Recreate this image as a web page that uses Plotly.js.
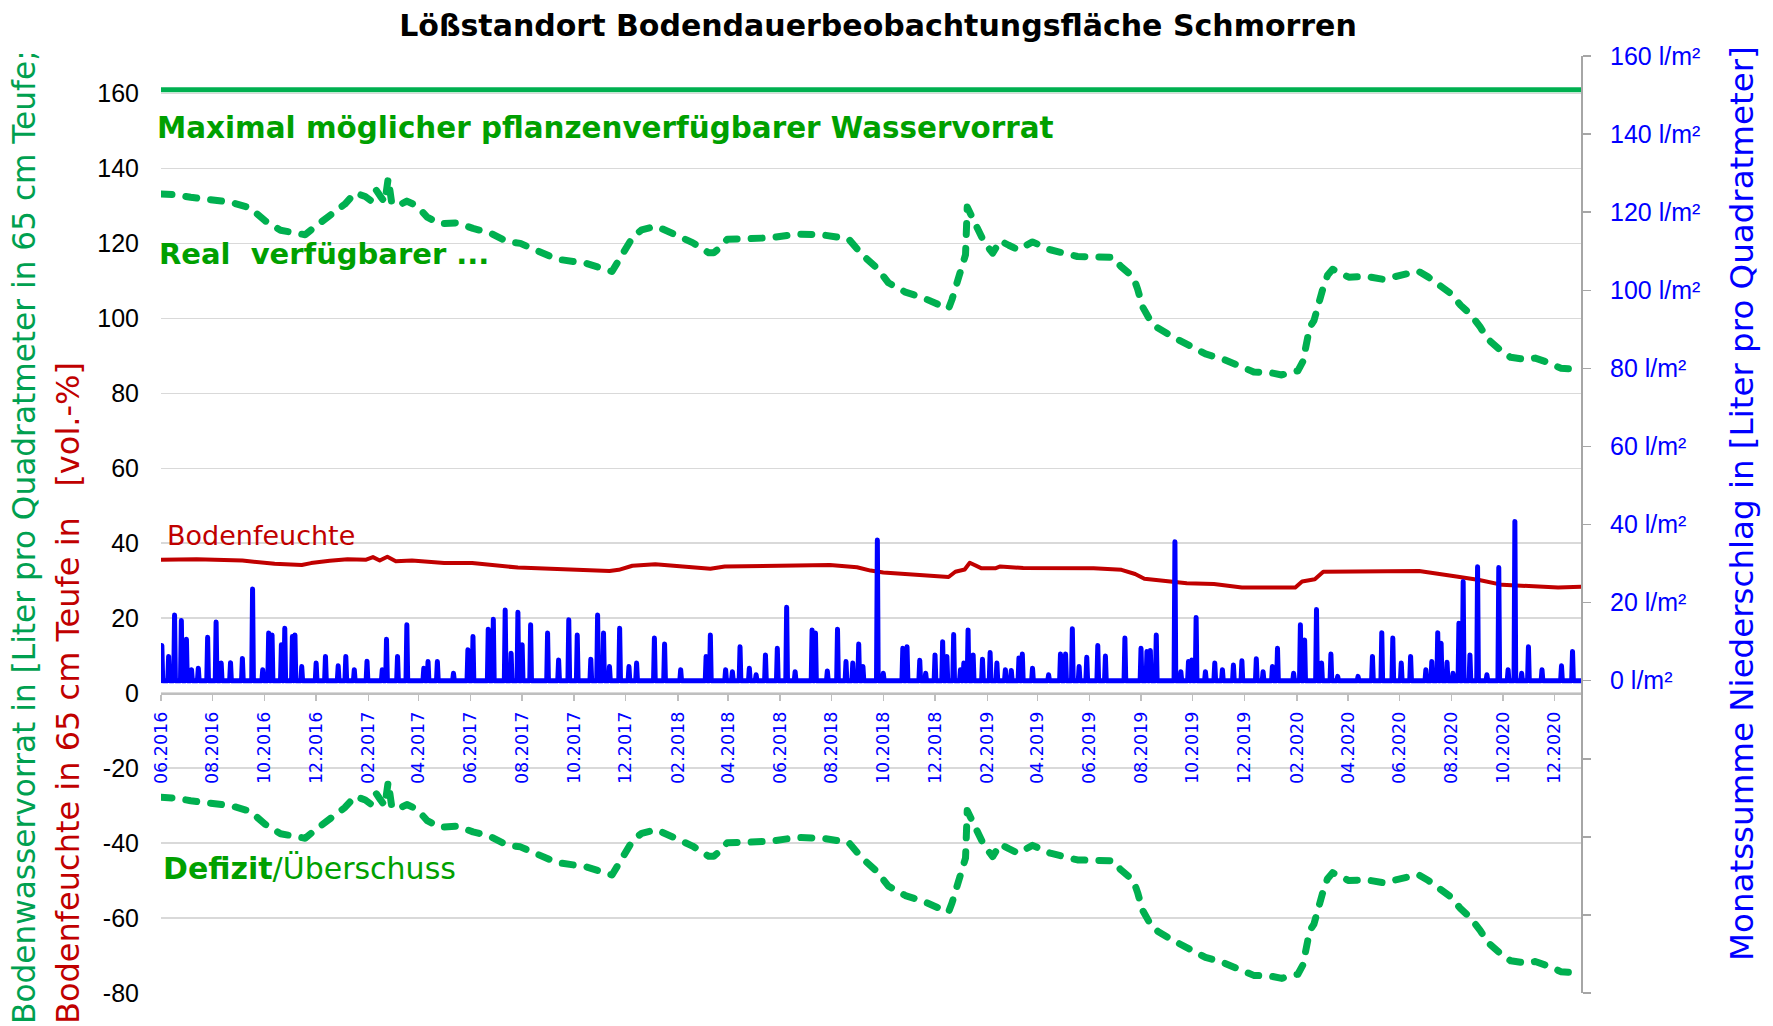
<!DOCTYPE html>
<html><head><meta charset="utf-8">
<script src="https://cdn.plot.ly/plotly-3.0.1.min.js"></script>
<style>
html,body{margin:0;padding:0;background:#fff}
#chart{width:1773px;height:1026px}
.js-line{stroke-linecap:round;stroke-linejoin:round}
</style>
</head><body><div id="chart"></div>
<script>
// ---------- data (x = day offset from 01.06.2016) ----------
const startDate = '2016-06-01';
const xTickLabels = ['06.2016','08.2016','10.2016','12.2016','02.2017','04.2017','06.2017','08.2017','10.2017','12.2017',
  '02.2018','04.2018','06.2018','08.2018','10.2018','12.2018','02.2019','04.2019','06.2019','08.2019',
  '10.2019','12.2019','02.2020','04.2020','06.2020','08.2020','10.2020','12.2020'];
const leftTicks = [-80,-60,-40,-20,0,20,40,60,80,100,120,140,160];
const rightTicks = [-80,-60,-40,-20,0,20,40,60,80,100,120,140,160];

// Maximal möglicher pflanzenverfügbarer Wasservorrat
const maxDay = [0,1675];
const maxVal = [161,161];

// Real verfügbarer Wasservorrat
const realDay = [0,17,35,58,82,105,123,141,158,170,
  182,200,217,229,241,247,253,259,264,268,
  272,279,290,302,314,329,349,368,388,408,
  424,439,467,501,524,532,544,557,567,584,
  607,627,646,652,660,668,687,719,750,780,
  811,827,845,858,878,899,919,929,933,939,
  945,949,951,955,963,971,981,990,1000,1011,
  1028,1049,1081,1112,1123,1132,1147,1152,1158,1167,
  1176,1194,1214,1232,1252,1273,1289,1309,1322,1335,
  1341,1347,1350,1355,1360,1365,1370,1376,1382,1401,
  1422,1442,1464,1483,1495,1509,1521,1533,1545,1556,
  1565,1580,1592,1611,1621,1639,1651,1662,1675];
const realVal = [133.2,133.0,132.3,131.8,131.0,129.5,126.0,123.5,122.7,122.3,
  124.5,127.5,130.5,133.5,132.5,131.5,134.5,132.5,131.0,137.3,
  131.0,130.0,131.3,130.0,127.0,125.2,125.5,124.0,122.8,120.5,
  120.0,118.5,115.8,114.7,113.0,112.5,117.0,121.9,123.6,124.6,
  122.3,120.2,117.5,117.5,119.0,121.1,121.2,121.5,122.5,122.3,
  121.2,117.0,113.3,109.5,107.0,105.5,103.5,102.6,105.0,109.0,
  113.0,117.0,129.7,127.6,124.4,120.3,117.4,120.7,119.5,118.3,
  120.4,118.3,116.5,116.5,116.3,113.9,111.0,107.8,103.0,99.4,
  97.4,95.0,92.9,90.5,89.2,87.2,85.7,85.5,84.9,85.7,
  86.0,88.5,92.8,97.6,99.4,104.2,107.5,111.5,113.1,111.0,
  111.2,110.4,111.5,112.6,111.0,108.5,106.7,103.5,101.0,97.7,
  94.5,91.5,89.6,89.0,89.4,88.0,86.7,86.5,87.2];

// Defizit / Überschuss
const deficitVal = [-27.8,-28.0,-28.7,-29.2,-30.0,-31.5,-35.0,-37.5,-38.3,-38.7,
  -36.5,-33.5,-30.5,-27.5,-28.5,-29.5,-26.5,-28.5,-30.0,-23.7,
  -30.0,-31.0,-29.7,-31.0,-34.0,-35.8,-35.5,-37.0,-38.2,-40.5,
  -41.0,-42.5,-45.2,-46.3,-48.0,-48.5,-44.0,-39.1,-37.4,-36.4,
  -38.7,-40.8,-43.5,-43.5,-42.0,-39.9,-39.8,-39.5,-38.5,-38.7,
  -39.8,-44.0,-47.7,-51.5,-54.0,-55.5,-57.5,-58.4,-56.0,-52.0,
  -48.0,-44.0,-31.3,-33.4,-36.6,-40.7,-43.6,-40.3,-41.5,-42.7,
  -40.6,-42.7,-44.5,-44.5,-44.7,-47.1,-50.0,-53.2,-58.0,-61.6,
  -63.6,-66.0,-68.1,-70.5,-71.8,-73.8,-75.3,-75.5,-76.1,-75.3,
  -75.0,-72.5,-68.2,-63.4,-61.6,-56.8,-53.5,-49.5,-47.9,-50.0,
  -49.8,-50.6,-49.5,-48.4,-50.0,-52.5,-54.3,-57.5,-60.0,-63.3,
  -66.5,-69.5,-71.4,-72.0,-71.6,-73.0,-74.3,-74.5,-73.8];

// Bodenfeuchte [vol.-%]
const soilDay = [0,42,96,134,166,177,199,220,242,250,
  258,267,277,296,334,367,421,475,529,540,
  556,583,610,648,665,719,789,821,837,852,
  891,929,937,948,954,968,984,990,1017,1044,
  1100,1133,1149,1160,1187,1210,1242,1275,1319,1338,
  1346,1361,1371,1402,1456,1484,1528,1555,1582,1621,
  1648,1675];
const soilVal = [35.6,35.7,35.4,34.5,34.2,34.7,35.3,35.7,35.6,36.3,
  35.4,36.4,35.2,35.4,34.7,34.7,33.5,33.1,32.6,32.9,
  34.0,34.4,33.8,33.2,33.8,34.0,34.2,33.6,32.7,32.2,
  31.6,31.0,32.4,33.0,34.8,33.3,33.3,33.8,33.4,33.3,
  33.3,32.9,31.8,30.5,29.9,29.3,29.1,28.2,28.2,28.2,
  29.8,30.4,32.4,32.4,32.4,32.6,31.1,30.2,28.9,28.6,
  28.2,28.4];

// Niederschlag [l/m²] (Tage mit Niederschlag; übrige Tage 0)
const precipDay = [1,9,16,24,30,36,44,55,65,71,
  82,96,108,120,127,131,142,146,155,158,
  166,183,194,209,218,228,243,261,266,279,
  290,310,315,326,345,362,368,386,392,406,
  413,421,426,436,456,469,481,491,507,515,
  522,529,541,552,561,582,594,613,643,648,
  666,674,683,694,702,713,727,738,748,768,
  772,786,798,808,816,823,828,845,852,875,
  880,895,902,913,922,927,935,943,947,952,
  958,969,978,986,996,1003,1012,1016,1028,1047,
  1061,1067,1075,1083,1092,1105,1114,1137,1156,1163,
  1167,1174,1196,1203,1212,1216,1221,1232,1243,1252,
  1265,1275,1292,1300,1311,1317,1336,1344,1349,1363,
  1369,1380,1388,1412,1429,1440,1453,1463,1474,1492,
  1499,1506,1510,1517,1524,1531,1536,1544,1553,1564,
  1578,1589,1597,1605,1613,1629,1652,1665];
const precipVal = [9.0,6.2,16.8,15.4,10.6,2.8,3.2,11.1,15.0,4.5,
  4.6,5.7,23.5,2.8,12.2,11.7,9.2,13.4,11.3,11.7,
  3.6,4.5,6.2,3.8,6.2,2.8,5.0,2.8,10.6,6.2,
  14.3,3.2,4.9,4.9,1.9,7.9,11.3,13.2,15.7,18.1,
  7.0,17.5,9.2,14.3,12.2,5.3,15.6,11.7,5.5,16.8,
  12.2,3.6,13.4,3.6,4.5,10.9,9.4,2.8,6.2,11.7,
  2.8,2.3,8.7,3.2,1.5,6.6,8.3,18.8,2.3,13.0,
  12.2,2.5,13.2,4.9,4.5,9.4,3.6,36.0,1.9,8.3,
  8.7,5.2,1.9,6.6,10.0,6.2,11.8,2.8,4.5,13.0,
  6.6,5.5,7.2,4.5,2.8,2.6,5.8,6.8,3.2,1.5,
  6.8,6.8,13.3,3.6,6.0,9.0,6.3,10.9,8.3,7.5,
  7.7,11.7,35.6,2.3,4.9,5.3,16.2,2.3,4.5,2.8,
  4.0,5.1,5.6,2.3,3.6,8.3,1.9,14.3,10.4,18.2,
  4.5,6.8,1.1,1.1,6.2,12.3,10.9,4.5,6.2,2.8,
  4.9,12.3,9.6,4.7,1.9,14.7,25.4,6.6,29.2,1.5,
  29.0,2.8,40.8,1.9,8.7,2.8,3.8,7.5];
const precipLastDay = 1675;

// ---------- helpers ----------
const START_MS = Date.parse(startDate + 'T00:00:00Z');
function dayToDate(d){ return new Date(START_MS + d*86400000).toISOString().slice(0,10); }
const tickVals = xTickLabels.map(s => s.slice(3) + '-' + s.slice(0,2) + '-01');
const rightTickText = rightTicks.map(v => v < 0 ? '' : v + ' l/m²');

// daily precipitation series: dry days between the rain days are 0
const pX = [], pY = [];
let prev = -1;
pX.push(dayToDate(0)); pY.push(0);
precipDay.forEach((d,i) => {
  if (d-1 > prev) { pX.push(dayToDate(d-1)); pY.push(0); }
  pX.push(dayToDate(d)); pY.push(precipVal[i]);
  pX.push(dayToDate(d+1)); pY.push(0);
  prev = d+1;
});
pX.push(dayToDate(precipLastDay)); pY.push(0);

const GREEN = '#00B050';
const traces = [
  {x: maxDay.map(dayToDate), y: maxVal, type:'scatter', mode:'lines', yaxis:'y',
   line:{color:GREEN, width:5}, hoverinfo:'skip'},
  {x: realDay.map(dayToDate), y: realVal, type:'scatter', mode:'lines', yaxis:'y',
   line:{color:GREEN, width:7, dash:'11px,14px'}, hoverinfo:'skip'},
  {x: realDay.map(dayToDate), y: deficitVal, type:'scatter', mode:'lines', yaxis:'y',
   line:{color:GREEN, width:7, dash:'11px,14px'}, hoverinfo:'skip'},
  {x: soilDay.map(dayToDate), y: soilVal, type:'scatter', mode:'lines', yaxis:'y',
   line:{color:'#C00000', width:4}, hoverinfo:'skip'},
  {x: pX, y: pY, type:'scatter', mode:'lines', yaxis:'y2',
   line:{color:'#0000FF', width:5}, hoverinfo:'skip'}
];

const L=161, T=56, W=1420, H=937;
const px = v => (v - L)/W;
const py = v => (T + H - v)/H;

const annotations = [
  {text:'<b>Maximal möglicher pflanzenverfügbarer Wasservorrat</b>', xref:'paper', yref:'paper',
   x:px(155), y:py(128), xanchor:'left', yanchor:'middle', showarrow:false,
   font:{family:'DejaVu Sans', size:29.4, color:'#00A000'}},
  {text:'<b>Real\u00A0\u00A0verfügbarer ...</b>', xref:'paper', yref:'paper',
   x:px(157), y:py(254), xanchor:'left', yanchor:'middle', showarrow:false,
   font:{family:'DejaVu Sans', size:29, color:'#00A000'}},
  {text:'Bodenfeuchte', xref:'paper', yref:'paper',
   x:px(165), y:py(535), xanchor:'left', yanchor:'middle', showarrow:false,
   font:{family:'DejaVu Sans', size:27, color:'#C00000'}},
  {text:'<b>Defizit</b>/Überschuss', xref:'paper', yref:'paper',
   x:px(161), y:py(868), xanchor:'left', yanchor:'middle', showarrow:false,
   font:{family:'DejaVu Sans', size:30, color:'#00A000'}},
  {text:'Bodenwasservorrat in [Liter pro Quadratmeter in 65 cm Teufe;', xref:'paper', yref:'paper',
   x:px(24), y:py(1026), xanchor:'center', yanchor:'bottom', textangle:-90, showarrow:false,
   font:{family:'DejaVu Sans', size:31.2, color:'#00A050'}},
  {text:'Bodenfeuchte in 65 cm Teufe in\u00A0\u00A0\u00A0[vol.-%]', xref:'paper', yref:'paper',
   x:px(68), y:py(1026), xanchor:'center', yanchor:'bottom', textangle:-90, showarrow:false,
   font:{family:'DejaVu Sans', size:32, color:'#C00000'}},
  {text:'Monatssumme Niederschlag in [Liter pro Quadratmeter]', xref:'paper', yref:'paper',
   x:px(1742), y:py(504), xanchor:'center', yanchor:'middle', textangle:-90, showarrow:false,
   font:{family:'DejaVu Sans', size:32.5, color:'#0000FF'}}
];

const layout = {
  width:1773, height:1026,
  margin:{l:L, r:1773-L-W, t:T, b:1026-T-H, pad:0},
  paper_bgcolor:'#fff', plot_bgcolor:'#fff',
  showlegend:false,
  title:{text:'<b>Lößstandort Bodendauerbeobachtungsfläche Schmorren</b>',
         font:{family:'DejaVu Sans', size:30, color:'#000'},
         xref:'container', yref:'container', x:878/1773, y:1-25/1026,
         xanchor:'center', yanchor:'middle'},
  xaxis:{type:'date', range:[dayToDate(0), dayToDate(1675)], anchor:'free', position:80/250,
         tickvals:tickVals, ticktext:xTickLabels, tickangle:-90,
         tickfont:{family:'DejaVu Sans', size:17.5, color:'#0000FF'},
         ticks:'outside', ticklen:6, tickwidth:1.5, tickcolor:'#BFBFBF',
         showline:true, linecolor:'#BFBFBF', linewidth:1.5,
         showgrid:false, zeroline:false, ticklabelstandoff:4},
  yaxis:{range:[-80,170], tickvals:leftTicks, ticktext:leftTicks.map(String),
         tickfont:{family:'Liberation Sans, Arial', size:25, color:'#000'},
         showgrid:true, gridcolor:'#D9D9D9', gridwidth:1.5, zeroline:false,
         showline:false, ticks:'', ticklabelstandoff:21},
  yaxis2:{range:[-80,160], overlaying:'y', side:'right', anchor:'x',
          tickvals:rightTicks, ticktext:rightTickText,
          tickfont:{family:'Liberation Sans, Arial', size:25, color:'#0000FF'},
          ticks:'outside', ticklen:8, tickwidth:1.5, tickcolor:'#A6A6A6',
          showline:true, linecolor:'#A6A6A6', linewidth:2,
          showgrid:false, zeroline:false, ticklabelstandoff:14},
  annotations: annotations
};

Plotly.newPlot('chart', traces, layout, {displayModeBar:false, staticPlot:true});
</script>
</body></html>
